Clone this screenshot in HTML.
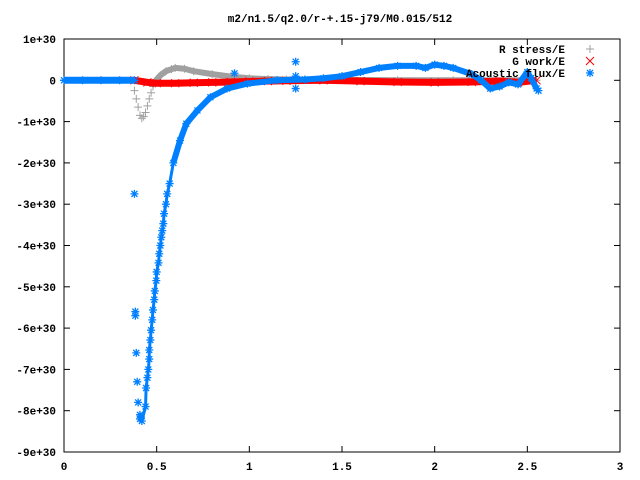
<!DOCTYPE html>
<html><head><meta charset="utf-8"><style>
html,body{margin:0;padding:0;background:#fff;}
svg{display:block;font-family:"Liberation Mono",monospace;font-weight:bold;}
</style></head><body>
<svg id="chart" width="640" height="480" viewBox="0 0 640 480">
<text x="340" y="22" font-size="11" text-anchor="middle">m2/n1.5/q2.0/r-+.15-j79/M0.015/512</text>
<g id="axes"></g>
<g id="series"></g>
<g id="legend"></g>
</svg>
<script>
const xTicks=[0,0.5,1,1.5,2,2.5,3];
const xTickLabels=["0","0.5","1","1.5","2","2.5","3"];
const yTicks=[1,0,-1,-2,-3,-4,-5,-6,-7,-8,-9];
const yTickLabels=["1e+30","0","-1e+30","-2e+30","-3e+30","-4e+30","-5e+30","-6e+30","-7e+30","-8e+30","-9e+30"];
const stressX=[0.38,0.39,0.40,0.41,0.42,0.43,0.44,0.45,0.46,0.47,0.48,0.49,0.50,0.52,0.55,0.58,0.6,0.65,0.7,0.8,0.9,1.0,1.1,1.2,1.5,1.8,2.1,2.4,2.55];
const stressY=[-0.25,-0.45,-0.65,-0.85,-0.92,-0.88,-0.78,-0.62,-0.45,-0.3,-0.15,-0.05,0.02,0.12,0.22,0.27,0.3,0.28,0.22,0.15,0.09,0.05,0.03,0.02,0.01,0.0,0.0,0.0,0.0];
const workX=[0.38,0.45,0.5,0.6,0.7,0.8,0.9,1.0,1.1,1.2,1.4,1.6,1.8,2.0,2.2,2.35,2.45,2.55];
const workY=[0.0,-0.05,-0.07,-0.07,-0.06,-0.05,-0.04,-0.03,-0.02,-0.01,0.0,-0.02,-0.04,-0.05,-0.04,-0.02,-0.05,0.0];
const fluxX=[0,0.1,0.2,0.3,0.38,0.42,0.44,0.443,0.45,0.455,0.46,0.46,0.466,0.47,0.476,0.48,0.487,0.49,0.498,0.50,0.51,0.514,0.52,0.525,0.53,0.536,0.54,0.55,0.557,0.57,0.59,0.626,0.66,0.72,0.79,0.88,0.99,1.15,1.3,1.4,1.5,1.6,1.7,1.8,1.9,1.95,2.0,2.05,2.1,2.2,2.25,2.3,2.35,2.4,2.45,2.5,2.52,2.55];
const fluxY=[0,0,0,0,0,-8.25,-7.9,-7.45,-7.2,-7.0,-6.75,-6.53,-6.29,-6.05,-5.8,-5.56,-5.31,-5.1,-4.85,-4.64,-4.42,-4.2,-4.0,-3.8,-3.64,-3.47,-3.23,-3.0,-2.75,-2.5,-2.0,-1.46,-1.05,-0.73,-0.41,-0.2,-0.08,0.0,0.02,0.05,0.1,0.2,0.3,0.35,0.35,0.3,0.38,0.35,0.3,0.15,0.0,-0.2,-0.15,-0.05,-0.1,0.2,0.05,-0.2];
const outX=[0.38,0.385,0.385,0.39,0.395,0.40,0.41,0.41,0.415,0.92,1.25,1.25,1.25,2.56];
const outY=[-2.75,-5.6,-5.7,-6.6,-7.3,-7.8,-8.1,-8.2,-8.15,0.17,0.45,0.1,-0.2,-0.25];

const L=64,R=620,T=39,B=452;
const sx=v=>L+(v-0)/(3-0)*(R-L);
const sy=v=>T+(1-v)/(1-(-9))*(B-T);
const NS="http://www.w3.org/2000/svg";
function mk(tag,attrs,parent){const e=document.createElementNS(NS,tag);for(const k in attrs)e.setAttribute(k,attrs[k]);parent.appendChild(e);return e;}
const axes=document.getElementById('axes'),ser=document.getElementById('series'),leg=document.getElementById('legend');
const frame=mk('rect',{x:L,y:T,width:R-L,height:B-T,fill:'none',stroke:'#000','stroke-width':1},axes);


xTicks.forEach((v,i)=>{
  const x=sx(v);
  mk('line',{x1:x,y1:B,x2:x,y2:B-6,stroke:'#000'},axes);
  mk('line',{x1:x,y1:T,x2:x,y2:T+6,stroke:'#000'},axes);
  const t=mk('text',{x:x,y:B+18,'font-size':11,'text-anchor':'middle'},axes);
  t.textContent=xTickLabels[i];
  
  
});
yTicks.forEach((v,i)=>{
  const y=sy(v);
  mk('line',{x1:L,y1:y,x2:L+6,y2:y,stroke:'#000'},axes);
  mk('line',{x1:R,y1:y,x2:R-6,y2:y,stroke:'#000'},axes);
  const t=mk('text',{x:L-8,y:y+4,'font-size':11,'text-anchor':'end'},axes);
  t.textContent=yTickLabels[i];
  
  
});
function plus(g,x,y,c){mk('path',{d:`M${x-4},${y}h8M${x},${y-4}v8`,stroke:c,'stroke-width':1,fill:'none'},g);}
function cross(g,x,y,c){mk('path',{d:`M${x-4},${y-4}l8,8M${x-4},${y+4}l8,-8`,stroke:c,'stroke-width':1,fill:'none'},g);}
function star(g,x,y,c){mk('path',{d:`M${x-4},${y}h8M${x},${y-4}v8M${x-3},${y-3}l6,6M${x-3},${y+3}l6,-6`,stroke:c,'stroke-width':1.3,fill:'none'},g);}
function band(g,xs,ys,c,w){mk('polyline',{points:xs.map((v,i)=>sx(v)+','+sy(ys[i])).join(' '),fill:'none',stroke:c,'stroke-width':w,'stroke-linejoin':'round'},g);}

const gS=mk('g',{},ser);


band(gS,stressX.slice(10),stressY.slice(10),'#a0a0a0',6);
stressX.forEach((v,i)=>plus(gS,sx(v),sy(stressY[i]),'#a0a0a0'));

const gW=mk('g',{},ser);


band(gW,workX,workY,'#ff0000',7);
workX.forEach((v,i)=>cross(gW,sx(v),sy(workY[i]),'#ff0000'));

const gF=mk('g',{},ser);


band(gF,fluxX.slice(0,5),fluxY.slice(0,5),'#0080ff',7);
band(gF,fluxX.slice(30),fluxY.slice(30),'#0080ff',6);
band(gF,fluxX.slice(5,31),fluxY.slice(5,31),'#0080ff',3);
fluxX.forEach((v,i)=>star(gF,sx(v),sy(fluxY[i]),'#0080ff'));
outX.forEach((v,i)=>star(gF,sx(v),sy(outY[i]),'#0080ff'));

const legNames=["R stress/E","G work/E","Acoustic flux/E"];
const legCols=['#a0a0a0','#ff0000','#0080ff'];
const legFns=[plus,cross,star];
legNames.forEach((n,i)=>{
  const y=49+i*12;
  const t=mk('text',{x:565,y:y+4,'font-size':11,'text-anchor':'end'},leg);
  t.textContent=n;
  
  
  legFns[i](leg,590,y,legCols[i]);
});
</script>
</body></html>
